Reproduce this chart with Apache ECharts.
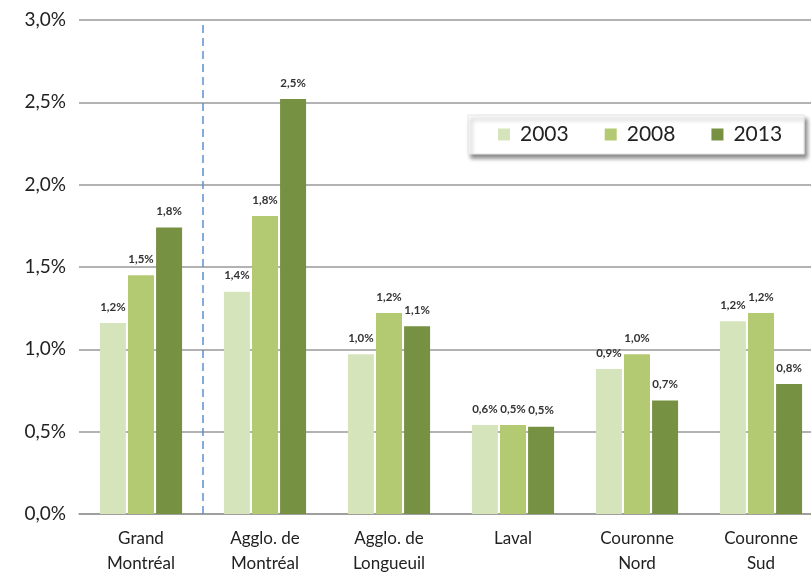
<!DOCTYPE html>
<html>
<head>
<meta charset="utf-8">
<script src="https://cdn.jsdelivr.net/npm/echarts@6/dist/echarts.min.js"></script>
<style>
  html, body { margin: 0; padding: 0; background: #fff; }
  #main { width: 811px; height: 585px; }
</style>
</head>
<body>
<div id="main"></div>
<script>
var categories = ['Grand\nMontréal', 'Agglo. de\nMontréal', 'Agglo. de\nLongueuil', 'Laval', 'Couronne\nNord', 'Couronne\nSud'];
var years = ['2003', '2008', '2013'];
var v2003 = [1.16, 1.35, 0.97, 0.54, 0.88, 1.17];
var v2008 = [1.45, 1.81, 1.22, 0.54, 0.97, 1.22];
var v2013 = [1.74, 2.52, 1.14, 0.53, 0.69, 0.79];
// étiquettes telles qu'affichées (arrondies)
var lab2003 = ['1,2%', '1,4%', '1,0%', '0,6%', '0,9%', '1,2%'];
var lab2008 = ['1,5%', '1,8%', '1,2%', '0,5%', '1,0%', '1,2%'];
var lab2013 = ['1,8%', '2,5%', '1,1%', '0,5%', '0,7%', '0,8%'];
var separator = [[0.5, 0], [0.5, 3]];

var colors = ['#d6e4bc', '#b4ca72', '#769141'];
var font = 'Lato, "DejaVu Sans", sans-serif';

function barSeries(name, values, labels) {
    return {
        name: name,
        type: 'bar',
        barWidth: 26,
        barGap: '8%',
        data: values,
        label: {
            show: true,
            position: 'top',
            distance: 10,
            fontSize: 11.5,
            fontWeight: 'bold',
            fontFamily: font,
            color: '#333',
            formatter: function (p) { return labels[p.dataIndex]; }
        }
    };
}

var myChart = echarts.init(document.getElementById('main'));
var option = {
    color: colors,
    animation: false,
    grid: { left: 79, width: 744, top: 20, height: 494, containLabel: false, outerBoundsMode: 'none' },
    legend: {
        data: years,
        left: 468,
        top: 115,
        width: 340,
        icon: 'rect',
        itemWidth: 12,
        itemHeight: 12,
        itemGap: 36,
        padding: [9, 22, 9, 30],
        backgroundColor: '#fff',
        borderColor: '#e4e4e4',
        borderWidth: 1,
        shadowColor: 'rgba(0,0,0,0.45)',
        shadowBlur: 4,
        shadowOffsetX: 3,
        shadowOffsetY: 4,
        textStyle: { fontSize: 21, color: '#222', fontFamily: font, padding: [0, 0, 0, 5] }
    },
    xAxis: [
        {
            type: 'category',
            data: categories,
            axisTick: { show: false },
            axisLine: { lineStyle: { color: '#999', width: 1.5 } },
            axisLabel: { fontSize: 17, lineHeight: 25, color: '#222', margin: 12, fontFamily: font, interval: 0 }
        },
        {
            type: 'value',
            min: -0.5,
            max: 5.5,
            show: false
        }
    ],
    yAxis: {
        type: 'value',
        min: 0,
        max: 3,
        interval: 0.5,
        axisLine: { show: false },
        axisTick: { show: false },
        splitLine: { lineStyle: { color: '#999', width: 1.5 } },
        axisLabel: {
            fontSize: 19,
            color: '#222',
            margin: 13,
            fontFamily: font,
            formatter: function (v) { return v.toFixed(1).replace('.', ',') + '%'; }
        }
    },
    series: [
        barSeries('2003', v2003, lab2003),
        barSeries('2008', v2008, lab2008),
        barSeries('2013', v2013, lab2013),
        {
            type: 'line',
            xAxisIndex: 1,
            data: separator,
            symbol: 'none',
            silent: true,
            z: 1,
            lineStyle: { color: '#5b8fd0', width: 1.5, type: [8, 5] }
        }
    ]
};
myChart.setOption(option);
</script>
</body>
</html>
